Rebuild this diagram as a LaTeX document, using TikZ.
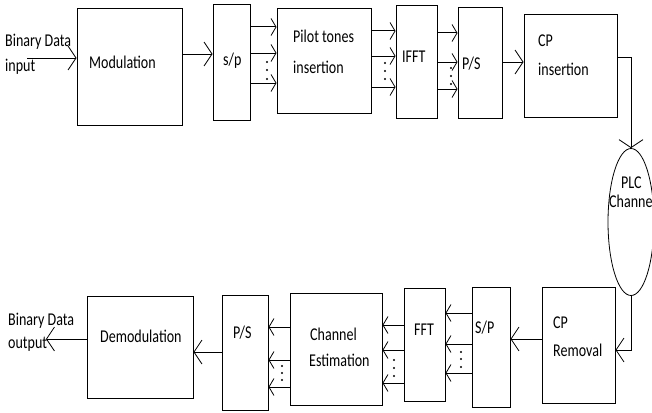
\documentclass[tikz,border=0pt]{standalone}
\usepackage{fontspec}
\setmainfont{Carlito}[FakeStretch=0.78]
\usetikzlibrary{arrows.meta,shapes.geometric}
\begin{document}
\begin{tikzpicture}[x=1pt,y=-1pt,
  box/.style={draw, line width=1pt, inner sep=0pt},
  lbl/.style={inner sep=0pt, anchor=base west, text=black, font=\fontsize{18}{20}\selectfont},
  big/.style={line width=1pt, -{Straight Barb[length=8pt,width=24pt,line width=0.8pt]}},
  sm/.style={line width=1pt, -{Straight Barb[length=5pt,width=17pt,line width=0.8pt]}}]
\useasboundingbox (0,0) rectangle (652,412);
% top row boxes
\node[box, minimum width=105pt, minimum height=116pt] (mod) at (129.5,67) {};
\node[box, minimum width=37pt, minimum height=115pt] (sp) at (231.5,62.5) {};
\node[box, minimum width=94pt, minimum height=104pt] (pil) at (324,61) {};
\node[box, minimum width=41pt, minimum height=112pt] (ifft) at (416.5,62) {};
\node[box, minimum width=44pt, minimum height=110pt] (ps) at (480,63) {};
\node[box, minimum width=93pt, minimum height=102pt] (cpi) at (570.5,66) {};
\node[draw, ellipse, line width=0.8pt, inner sep=0pt, minimum width=46pt, minimum height=147pt] (plc) at (631,222) {};
% bottom row boxes
\node[box, minimum width=106pt, minimum height=102pt] (dem) at (140,347) {};
\node[box, minimum width=46pt, minimum height=115pt] (ps2) at (245,352.5) {};
\node[box, minimum width=92pt, minimum height=112pt] (che) at (336,349) {};
\node[box, minimum width=41pt, minimum height=113pt] (fft) at (424.5,344.5) {};
\node[box, minimum width=38pt, minimum height=120pt] (sp2) at (491,347) {};
\node[box, minimum width=73pt, minimum height=116pt] (cpr) at (578.5,345) {};
% labels
\node[lbl] (tBin) at (5,47) {Binary Data};
\node[lbl] (tIn) at (5,71) {input};
\node[lbl] (tMod) at (89,68) {Modulation};
\node[lbl] (tSp) at (223,65) {s/p};
\node[lbl] (tPil1) at (293,43) {Pilot tones};
\node[lbl] (tPil2) at (293,74) {insertion};
\node[lbl] (tIfft) at (402,62) {IFFT};
\node[lbl] (tPs) at (462,70) {P/S};
\node[lbl] (tCp1) at (538,46) {CP};
\node[lbl] (tCp2) at (538,75) {insertion};
\node[lbl] (tPlc1) at (621,188) {PLC};
\node[lbl] (tPlc2) at (609,207) {Channe};
\node[lbl] (tBo1) at (8,325) {Binary Data};
\node[lbl] (tBo2) at (8,348) {output};
\node[lbl] (tDem) at (100,342) {Demodulation};
\node[lbl] (tPs2) at (233,338) {P/S};
\node[lbl] (tCh1) at (310,340) {Channel};
\node[lbl] (tCh2) at (309,366) {Estimation};
\node[lbl] (tFft) at (414,335) {FFT};
\node[lbl] (tSp2) at (475,333) {S/P};
\node[lbl] (tCr1) at (553,328) {CP};
\node[lbl] (tCr2) at (553,356) {Removal};
% free ends
\coordinate (inS) at (27,58);
\coordinate (outE) at (46,339);
% top connectors
\draw[big] (inS) -- (mod.west |- inS);
\draw[big] (mod.east |- 0,54) -- (sp.west |- 0,54);
\foreach \yy in {27,53,83} \draw[sm] (sp.east |- 0,\yy) -- (pil.west |- 0,\yy);
\foreach \yy in {31,56,87} \draw[sm] (pil.east |- 0,\yy) -- (ifft.west |- 0,\yy);
\foreach \yy in {33,62,89} \draw[sm] (ifft.east |- 0,\yy) -- (ps.west |- 0,\yy);
\draw[big] (ps.east |- 0,62) -- (cpi.west |- 0,62);
\draw[big] (cpi.east |- 0,57) -| (plc.north);
\draw[big] (plc.south) |- (cpr.east |- 0,350);
% bottom connectors
\draw[big] (cpr.west |- 0,339) -- (sp2.east |- 0,339);
\foreach \yy in {313,344,373} \draw[sm] (sp2.west |- 0,\yy) -- (fft.east |- 0,\yy);
\foreach \yy in {325,350,383} \draw[sm] (fft.west |- 0,\yy) -- (che.east |- 0,\yy);
\foreach \yy in {327,360,387} \draw[sm] (che.west |- 0,\yy) -- (ps2.east |- 0,\yy);
\draw[big] (ps2.west |- 0,352) -- (dem.east |- 0,352);
\draw[big] (dem.west |- outE) -- (outE);
% dots
\foreach \xx/\ya/\yb/\yc in {267/62/70/79, 385/63/71/79, 451/68/76/84, 282/366/373/380, 394/360/368/376, 461/352/359/367}
  \foreach \yy in {\ya,\yb,\yc} \fill (\xx,\yy) circle (1.2pt);
\end{tikzpicture}
\end{document}
